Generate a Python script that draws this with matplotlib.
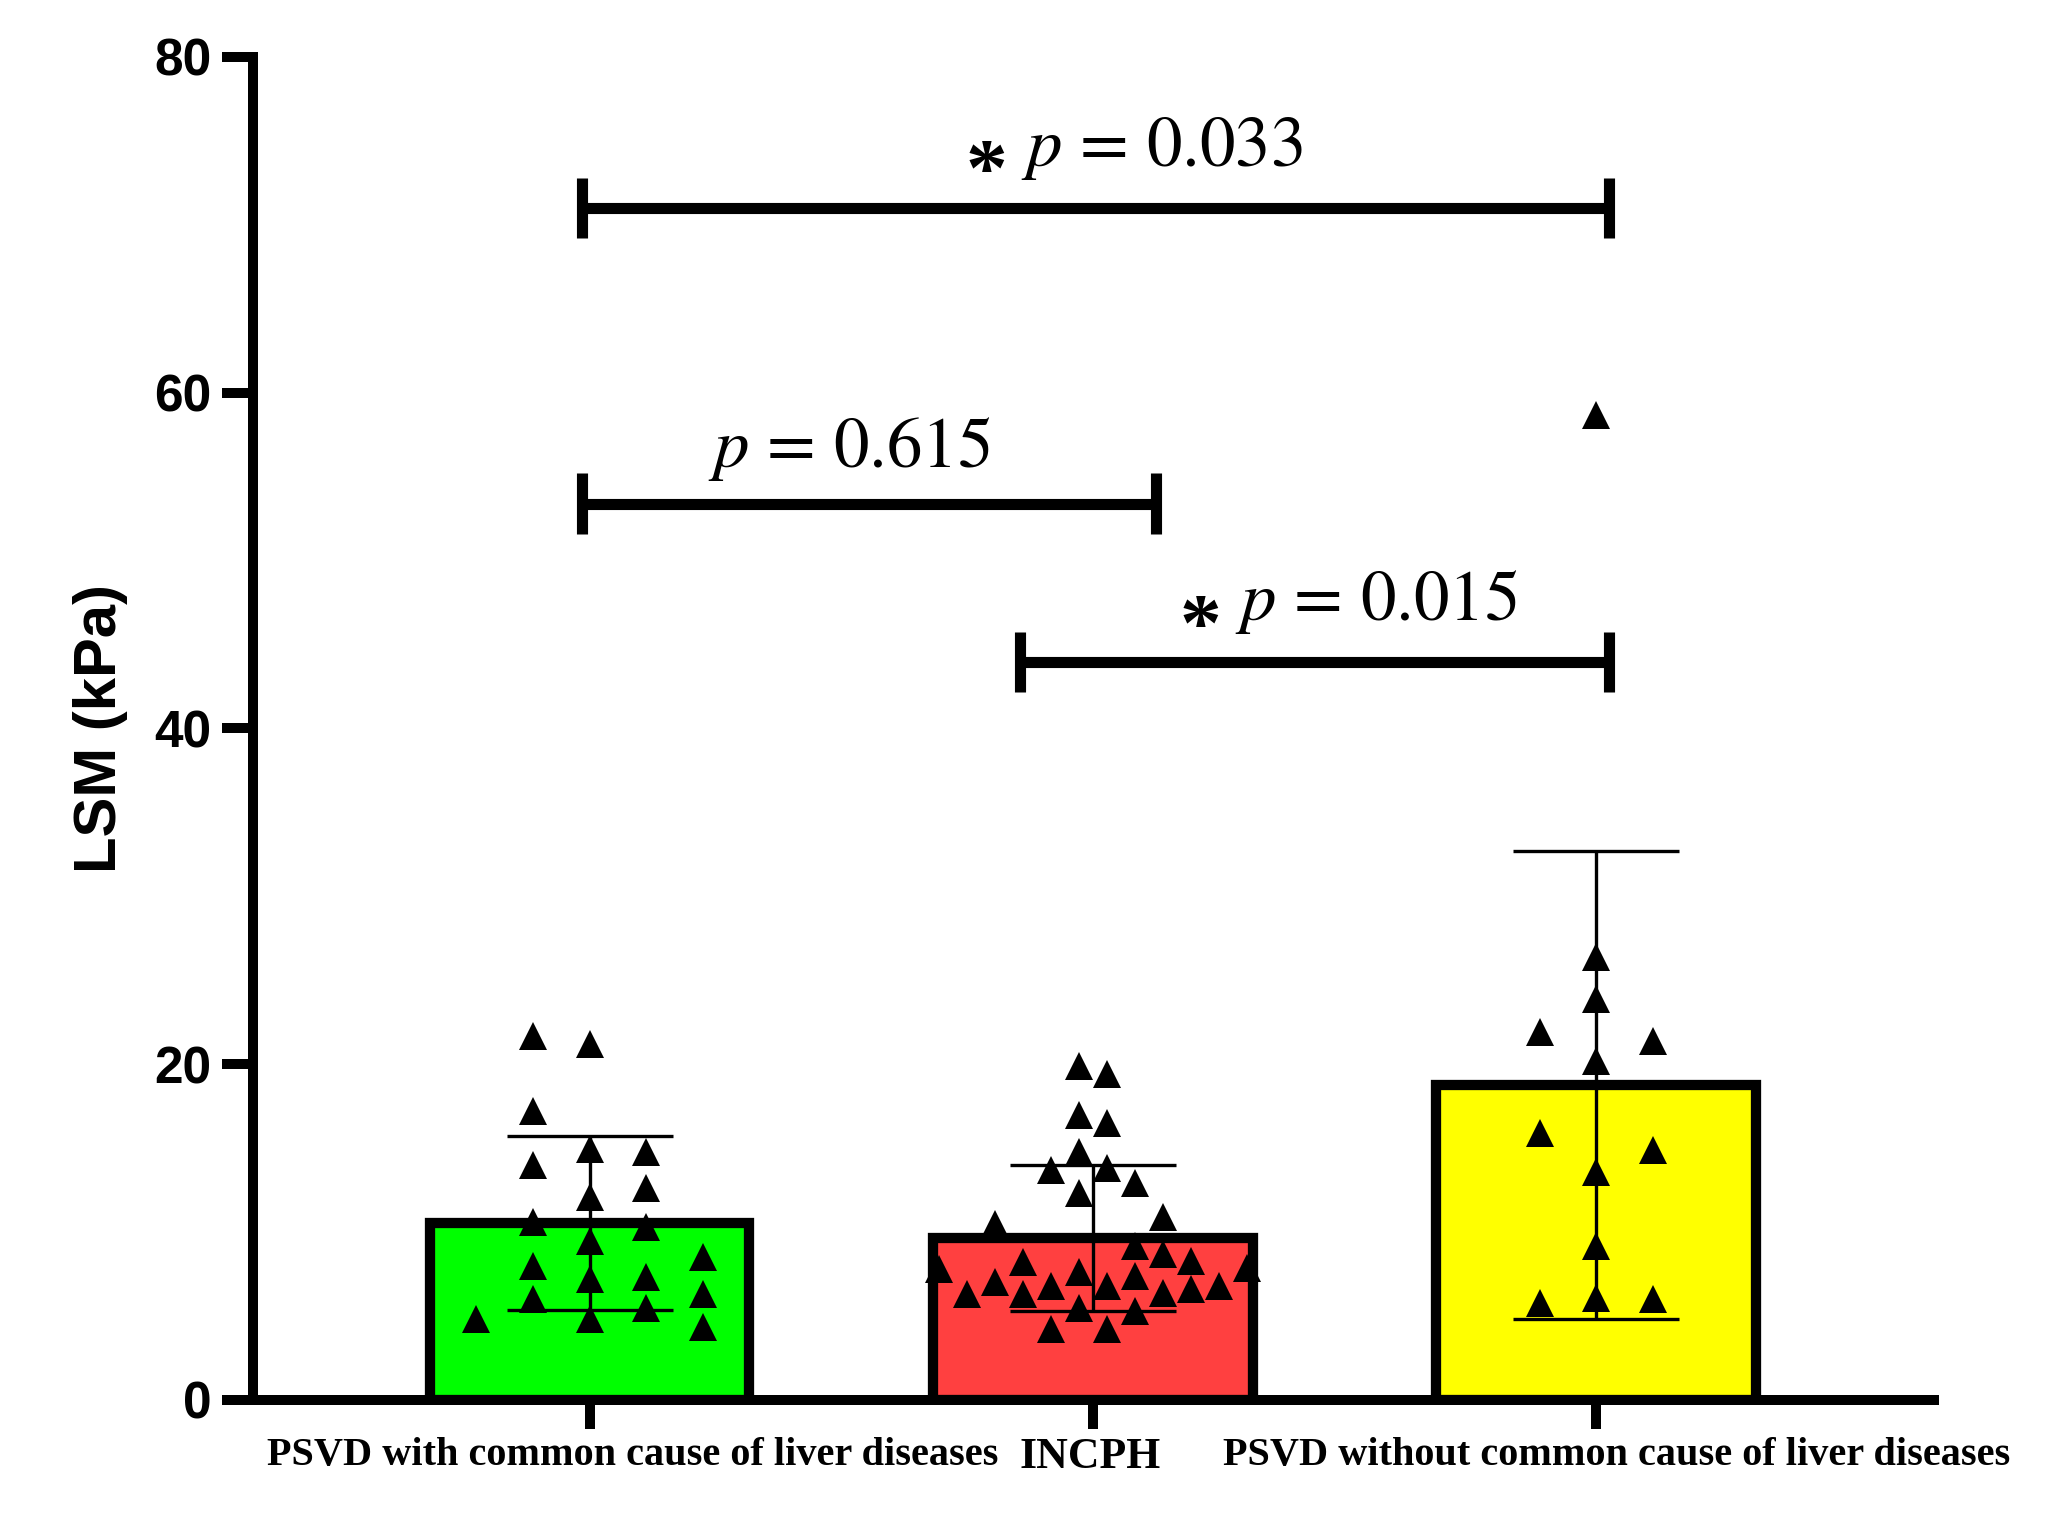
import matplotlib
matplotlib.use('Agg')
import matplotlib.pyplot as plt
import matplotlib.transforms as mtransforms
import numpy as np

# ── data ───────────────────────────────────────────────────────────────────
groups = ['PSVD with common cause of liver diseases', 'INCPH',
          'PSVD without common cause of liver diseases']
bar_colors = ['#00FF00', '#FF4040', '#FFFF00']
means = [10.55, 9.65, 18.75]
sds = [5.2, 4.35, 13.95]

# individual measurements (kPa) and their swarm column within each group
green_vals = [21.7, 21.2, 17.2, 14.95, 14.8, 14.0, 12.6, 12.1, 10.6, 10.3, 9.45,
              8.5, 8.0, 7.3, 7.2, 6.0, 6.3, 5.45, 4.85, 4.35, 4.85]
green_cols = [-1, 0, -1, 0, 1, -1, 1, 0, -1, 1, 0,
              2, -1, 1, 0, -1, 2, 1, 0, 2, -2]

red_vals = [19.9, 19.4, 17.0, 16.5, 14.8, 13.7, 13.8, 12.9, 12.3, 10.9, 10.5,
            9.2, 8.7, 8.2, 8.3, 7.8, 7.85, 7.6, 7.4, 7.0, 6.8, 6.8, 6.8,
            6.3, 6.3, 6.4, 6.6, 5.5, 5.3, 4.25, 4.25]
red_cols = [-0.5, 0.5, -0.5, 0.5, -0.5, -1.5, 0.5, 1.5, -0.5, 2.5, -3.5,
            1.5, 2.5, -2.5, 3.5, -5.5, 5.5, -0.5, 1.5, -3.5, -1.5, 0.5, 4.5,
            -4.5, -2.5, 2.5, 3.5, -0.5, 1.5, -1.5, 0.5]

yellow_vals = [58.7, 26.4, 23.9, 21.9, 21.4, 20.2, 15.9, 14.9, 13.6, 9.2,
               5.8, 6.1, 6.0]
yellow_cols = [0, 0, 0, -1, 1, 0, -1, 1, 0, 0, -1, 0, 1]

# pairwise comparisons: (group a, group b, bracket height, p value, significant)
comparisons = [
    (0, 2, 71.0, '0.033', True),
    (0, 1, 53.4, '0.615', False),
    (1, 2, 43.95, '0.015', True),
]

plt.rcParams['mathtext.fontset'] = 'stix'

fig = plt.figure(figsize=(20.5, 15.28), dpi=100)
ax = fig.add_axes([0.1234, 0.0838, 0.82, 0.8789])

x = np.arange(len(groups))
ax.bar(x, means, width=0.635, color=bar_colors, edgecolor='black',
       linewidth=7.4, zorder=1)
ax.errorbar(x, means, yerr=sds, fmt='none', ecolor='black', elinewidth=2.4,
            capsize=60, capthick=2.4, zorder=3)

# scatter of individual values (triangles)
step = {0: 0.113, 1: 0.0556, 2: 0.112}
for gi, (vals, cols) in enumerate([(green_vals, green_cols),
                                   (red_vals, red_cols),
                                   (yellow_vals, yellow_cols)]):
    xs = gi + np.array(cols) * step[gi]
    ax.plot(xs, vals, '^', color='black', ms=20, mew=0, zorder=4,
            clip_on=False)

# significance brackets
bracket_left = {0: -0.015, 1: 0.855}
bracket_right = {1: 1.125, 2: 2.025}
half_tick = 1.8
for a, b, y, pval, sig in comparisons:
    x1 = bracket_left[a]
    x2 = bracket_right[b]
    ax.plot([x1, x2], [y, y], color='black', lw=8, solid_capstyle='butt',
            zorder=5, clip_on=False)
    ax.plot([x1, x1], [y - half_tick, y + half_tick], color='black', lw=8,
            solid_capstyle='butt', zorder=5, clip_on=False)
    ax.plot([x2, x2], [y - half_tick, y + half_tick], color='black', lw=8,
            solid_capstyle='butt', zorder=5, clip_on=False)

    p_label = r'$p$ = ' + pval
    if sig:
        # label sits over the right-hand part of the bracket
        cx = x1 + 0.565 * (x2 - x1) if b - a == 2 else x1 + 0.605 * (x2 - x1)
        ax.text(cx, y + 2.5, p_label, ha='center', va='baseline', fontsize=51,
                family='STIXGeneral', clip_on=False)
        ax.text(cx - 0.35, y + 0.75, '*', ha='center', va='baseline',
                fontsize=60, fontweight='bold', family='Liberation Serif')
    else:
        ax.text((x1 + x2) / 2 - 0.04, y + 2.2, p_label, ha='center',
                va='baseline', fontsize=51, family='STIXGeneral')

# axes styling
ax.set_xlim(-0.6688, 2.671)
ax.set_ylim(0, 80)
ax.set_yticks([0, 20, 40, 60, 80])
ax.set_xticks(x)
ax.set_xticklabels(groups)

for side in ['top', 'right']:
    ax.spines[side].set_visible(False)
for side in ['left', 'bottom']:
    ax.spines[side].set_linewidth(7.2)
    ax.spines[side].set_capstyle('projecting')

ax.tick_params(axis='y', length=22, width=7.2, pad=8)
ax.tick_params(axis='x', length=21, width=7.2, pad=6)

for lbl in ax.get_yticklabels():
    lbl.set_fontfamily('Liberation Sans')
    lbl.set_fontweight('bold')
    lbl.set_fontsize(37)

label_shift = [31, -2, 15]
for lbl, dx in zip(ax.get_xticklabels(), label_shift):
    lbl.set_fontfamily('Liberation Serif')
    lbl.set_fontweight('bold')
    lbl.set_fontsize(31.5 if lbl.get_text() == 'INCPH' else 29)
    lbl.set_transform(lbl.get_transform() +
                      mtransforms.ScaledTranslation(dx / 72, 0,
                                                    fig.dpi_scale_trans))

ax.set_ylabel('LSM (kPa)', fontsize=43, fontweight='bold',
              family='Liberation Sans')
ax.yaxis.set_label_coords(-0.0744, 0.5)

fig.savefig('out.png', dpi=100)
